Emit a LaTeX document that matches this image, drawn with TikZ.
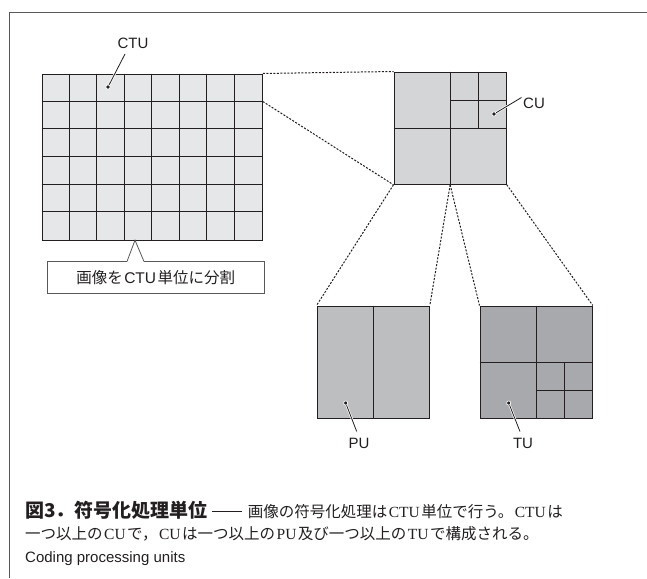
\documentclass[tikz,border=0pt]{standalone}
\usepackage{fontspec}
\setmainfont{Liberation Serif}
\setsansfont{Liberation Sans}
\newfontfamily\cjk{Noto Sans CJK JP}
\usetikzlibrary{calc}
\definecolor{ink}{HTML}{231F20}
\definecolor{ctufill}{HTML}{E6E7E8}
\definecolor{cufill}{HTML}{D4D5D7}
\definecolor{pufill}{HTML}{BCBEC0}
\definecolor{tufill}{HTML}{A7A9AC}
\definecolor{framegray}{HTML}{58595B}
\tikzset{
  block/.style={draw=ink, line width=1.3pt, inner sep=0pt, anchor=north west},
  split/.style={draw=ink, line width=1.3pt},
  zoomline/.style={draw=ink, line width=1pt, dash pattern=on 2pt off 1.5pt},
  leader/.style={draw=ink, line width=0.8pt, preaction={draw=white, line width=2.2pt}},
  pin/.style={circle, fill=ink, draw=white, line width=0.7pt, inner sep=0pt, minimum size=4.2pt},
  lbl/.style={font=\sffamily\fontsize{15}{18}\selectfont, text=ink, inner sep=0pt},
}
\newcommand{\lat}[1]{\hspace{1.5pt}{\rmfamily #1}\hspace{1.5pt}}
\begin{document}
\begin{tikzpicture}[x=1pt,y=-1pt]
\useasboundingbox (0,0) rectangle (647,578);
% frame
\draw[framegray, line width=1pt] (9.5,578) -- (9.5,12.5) -- (647,12.5);

% CTU grid
\node[block, fill=ctufill, minimum width=220pt, minimum height=166pt] (ctu) at (41.5,73.5) {};
\foreach \x in {69.5,96.5,124.5,151.5,179.5,206.5,234.5}
  \draw[split] (\x,0 |- ctu.north) -- (\x,0 |- ctu.south);
\foreach \y in {101.5,128.5,156.5,184.5,211.5}
  \draw[split] (ctu.west |- 0,\y) -- (ctu.east |- 0,\y);

% CU
\node[block, fill=cufill, minimum width=112pt, minimum height=112pt] (cu) at (393.5,71.5) {};
\draw[split] (cu.north) -- (cu.south);
\draw[split] (cu.west) -- (cu.east);
\draw[split] ($(cu.north)+(28,0)$) -- ($(cu.center)+(28,0)$);
\draw[split] ($(cu.center)+(0,-28)$) -- ($(cu.east)+(0,-28)$);

% PU
\node[block, fill=pufill, minimum width=112pt, minimum height=112pt] (pu) at (316.5,305.5) {};
\draw[split] (pu.north) -- (pu.south);

% TU
\node[block, fill=tufill, minimum width=112pt, minimum height=112pt] (tu) at (479.5,305.5) {};
\draw[split] (tu.north) -- (tu.south);
\draw[split] (tu.west) -- (tu.east);
\draw[split] ($(tu.center)+(28,0)$) -- ($(tu.south)+(28,0)$);
\draw[split] ($(tu.center)+(0,28)$) -- ($(tu.east)+(0,28)$);

% zoom lines
\coordinate (ctuRow) at (ctu.east |- 0,101.5);
\draw[zoomline] (ctu.north east) -- (cu.north west);
\draw[zoomline] (ctuRow) -- (cu.south west);
\draw[zoomline] (cu.south west) -- (pu.north west);
\draw[zoomline] (cu.south) -- (pu.north east);
\draw[zoomline] (cu.south) -- (tu.north west);
\draw[zoomline] (cu.south east) -- (tu.north east);

% labels with leaders
\node[lbl] (lctu) at (133,43) {CTU};
\coordinate (pctu) at (108,87);
\draw[leader] (125,54) -- (pctu);
\node[pin] at (pctu) {};

\node[lbl, anchor=west] (lcu) at (523,103) {CU};
\coordinate (pcu) at (494,114);
\draw[leader] (521.5,97.5) -- (pcu);
\node[pin] at (pcu) {};

\node[lbl] (lpu) at (359,443) {PU};
\coordinate (ppu) at (345.7,403);
\draw[leader] (356.7,431.5) -- (ppu);
\node[pin] at (ppu) {};

\node[lbl] (ltu) at (523,443) {TU};
\coordinate (ptu) at (508.7,403);
\draw[leader] (520,431.5) -- (ptu);
\node[pin] at (ptu) {};

% callout
\node[draw=none, minimum width=216pt, minimum height=31pt, inner sep=0pt, anchor=north west,
      font=\cjk\fontsize{15.5}{18}\selectfont, text=ink] (call) at (47.5,261.5)
      {画像を\hspace{1.5pt}{\sffamily CTU}\hspace{1.5pt}単位に分割};
\coordinate (apex) at (135,240.2);
\draw[framegray, line width=0.8pt]
  ($(call.north west)+(79.5,0)$) -- (call.north west) -- (call.south west) -- (call.south east)
  -- (call.north east) -- ($(call.north west)+(96.5,0)$);
\draw[framegray, line width=0.8pt] ($(call.north west)+(79.5,0)$) -- (apex) -- ($(call.north west)+(96.5,0)$);

% caption
\node[anchor=base west, inner sep=0pt, text=ink] (cap1) at (25,517)
  {{\cjk\bfseries\fontsize{19}{22}\selectfont 図3．符号化処理単位}\hspace{4pt}\rule[5pt]{30pt}{0.8pt}\hspace{6pt}{\cjk\fontsize{15.5}{18}\selectfont 画像の符号化処理は\lat{CTU}単位で行う。\lat{CTU}は}};
\node[anchor=base west, inner sep=0pt, text=ink, font=\cjk\fontsize{15.5}{18}\selectfont] (cap2) at (25,539)
  {一つ以上の\lat{CU}で，\lat{CU}は一つ以上の\lat{PU}及び一つ以上の\lat{TU}で構成される。};
\node[anchor=base west, inner sep=0pt, text=ink, font=\sffamily\fontsize{15}{18}\selectfont] (cap3) at (25,562)
  {Coding processing units};
\end{tikzpicture}
\end{document}
